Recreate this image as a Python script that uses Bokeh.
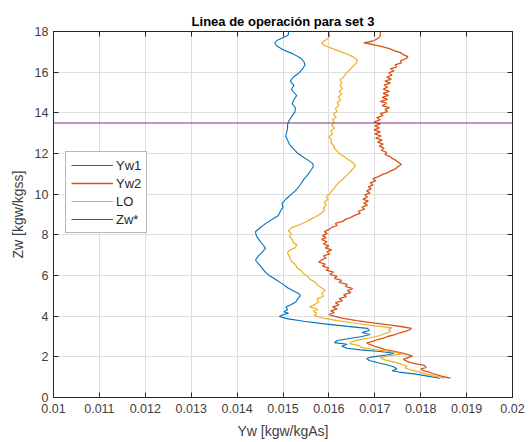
from bokeh.plotting import figure
from bokeh.models import LinearAxis, FixedTicker, Legend, LegendItem
from bokeh.embed import file_html
from bokeh.resources import INLINE

# Operating-line profiles: (Zw, Yw) pairs, bottom to top
yw1_pts = [
    (0.95, 0.01842), (1.05, 0.01815), (1.15, 0.01790), (1.25, 0.01752), (1.32, 0.01738),
    (1.40, 0.01748), (1.50, 0.01742), (1.60, 0.01728), (1.72, 0.01705), (1.82, 0.01688),
    (1.92, 0.01682), (2.00, 0.01695), (2.10, 0.01730), (2.18, 0.01742), (2.26, 0.01712),
    (2.34, 0.01668), (2.42, 0.01640), (2.52, 0.01628), (2.62, 0.01640), (2.70, 0.01612),
    (2.80, 0.01618), (2.90, 0.01645), (3.00, 0.01672), (3.10, 0.01690), (3.20, 0.01672),
    (3.30, 0.01688), (3.40, 0.01684), (3.50, 0.01640), (3.62, 0.01590), (3.75, 0.01545),
    (3.88, 0.01508), (3.98, 0.01492), (4.06, 0.01498), (4.14, 0.01512), (4.22, 0.01502),
    (4.32, 0.01510), (4.45, 0.01506), (4.55, 0.01516), (4.70, 0.01528), (4.85, 0.01532),
    (5.00, 0.01538), (5.12, 0.01534), (5.25, 0.01522), (5.40, 0.01510), (5.60, 0.01498),
    (5.80, 0.01484), (6.00, 0.01470), (6.15, 0.01462), (6.35, 0.01455), (6.55, 0.01448),
    (6.75, 0.01440), (6.95, 0.01446), (7.15, 0.01455), (7.35, 0.01462), (7.55, 0.01455),
    (7.75, 0.01448), (7.95, 0.01442), (8.15, 0.01440), (8.35, 0.01450), (8.55, 0.01462),
    (8.75, 0.01476), (8.95, 0.01490), (9.15, 0.01494), (9.35, 0.01500), (9.55, 0.01498),
    (9.75, 0.01506), (9.95, 0.01516), (10.15, 0.01526), (10.35, 0.01534), (10.55, 0.01540),
    (10.75, 0.01546), (10.95, 0.01554), (11.15, 0.01560), (11.35, 0.01566), (11.50, 0.01565),
    (11.65, 0.01556), (11.85, 0.01542), (12.05, 0.01530), (12.25, 0.01522), (12.45, 0.01514),
    (12.65, 0.01510), (12.85, 0.01506), (13.05, 0.01508), (13.25, 0.01510), (13.45, 0.01510),
    (13.65, 0.01514), (13.85, 0.01520), (14.05, 0.01526), (14.25, 0.01527), (14.45, 0.01520),
    (14.65, 0.01524), (14.85, 0.01530), (15.00, 0.01524), (15.15, 0.01518), (15.35, 0.01524),
    (15.55, 0.01516), (15.75, 0.01522), (15.95, 0.01534), (16.15, 0.01542), (16.35, 0.01548),
    (16.50, 0.01546), (16.70, 0.01538), (16.90, 0.01522), (17.10, 0.01500), (17.30, 0.01486),
    (17.45, 0.01482), (17.60, 0.01490), (17.75, 0.01506), (17.85, 0.01512), (18.00, 0.01512),
]

yw2_pts = [
    (0.95, 0.01865), (1.02, 0.01850), (1.10, 0.01838), (1.18, 0.01826), (1.25, 0.01818),
    (1.32, 0.01806), (1.40, 0.01800), (1.48, 0.01812), (1.58, 0.01808), (1.65, 0.01790),
    (1.72, 0.01778), (1.80, 0.01768), (1.88, 0.01762), (1.96, 0.01772), (2.04, 0.01782),
    (2.12, 0.01770), (2.20, 0.01758), (2.28, 0.01740), (2.36, 0.01722), (2.44, 0.01712),
    (2.52, 0.01700), (2.60, 0.01690), (2.68, 0.01682), (2.76, 0.01695), (2.84, 0.01705),
    (2.92, 0.01718), (3.00, 0.01728), (3.08, 0.01742), (3.16, 0.01752), (3.24, 0.01765),
    (3.32, 0.01775), (3.40, 0.01780), (3.48, 0.01760), (3.56, 0.01735), (3.66, 0.01700),
    (3.78, 0.01660), (3.90, 0.01628), (4.00, 0.01612), (4.08, 0.01600), (4.18, 0.01612),
    (4.26, 0.01604), (4.36, 0.01618), (4.46, 0.01608), (4.56, 0.01622), (4.66, 0.01614),
    (4.76, 0.01630), (4.86, 0.01622), (4.96, 0.01638), (5.06, 0.01632), (5.16, 0.01648),
    (5.26, 0.01640), (5.36, 0.01652), (5.46, 0.01636), (5.56, 0.01640), (5.66, 0.01622),
    (5.76, 0.01628), (5.86, 0.01612), (5.96, 0.01618), (6.06, 0.01602), (6.16, 0.01610),
    (6.26, 0.01594), (6.36, 0.01600), (6.46, 0.01586), (6.56, 0.01592), (6.66, 0.01578),
    (6.76, 0.01584), (6.86, 0.01594), (6.96, 0.01588), (7.06, 0.01602), (7.16, 0.01596),
    (7.26, 0.01606), (7.36, 0.01592), (7.46, 0.01600), (7.56, 0.01588), (7.66, 0.01596),
    (7.76, 0.01584), (7.86, 0.01594), (7.96, 0.01586), (8.06, 0.01596), (8.16, 0.01590),
    (8.26, 0.01600), (8.36, 0.01606), (8.46, 0.01618), (8.56, 0.01614), (8.66, 0.01630),
    (8.76, 0.01636), (8.86, 0.01648), (8.96, 0.01656), (9.06, 0.01668), (9.16, 0.01664),
    (9.26, 0.01678), (9.36, 0.01672), (9.46, 0.01684), (9.56, 0.01676), (9.66, 0.01686),
    (9.76, 0.01674), (9.86, 0.01684), (9.96, 0.01678), (10.06, 0.01690), (10.16, 0.01682),
    (10.26, 0.01692), (10.36, 0.01686), (10.46, 0.01696), (10.56, 0.01690), (10.66, 0.01702),
    (10.76, 0.01696), (10.86, 0.01708), (10.96, 0.01716), (11.06, 0.01728), (11.16, 0.01736),
    (11.26, 0.01746), (11.36, 0.01750), (11.46, 0.01758), (11.56, 0.01752), (11.66, 0.01746),
    (11.76, 0.01738), (11.86, 0.01732), (11.96, 0.01722), (12.06, 0.01726), (12.16, 0.01714),
    (12.26, 0.01720), (12.36, 0.01710), (12.46, 0.01718), (12.56, 0.01706), (12.66, 0.01716),
    (12.76, 0.01702), (12.86, 0.01714), (12.96, 0.01700), (13.06, 0.01712), (13.16, 0.01698),
    (13.26, 0.01710), (13.36, 0.01700), (13.46, 0.01712), (13.56, 0.01698), (13.66, 0.01712),
    (13.76, 0.01704), (13.86, 0.01718), (13.96, 0.01712), (14.06, 0.01728), (14.16, 0.01722),
    (14.26, 0.01732), (14.36, 0.01716), (14.46, 0.01726), (14.56, 0.01712), (14.66, 0.01728),
    (14.76, 0.01716), (14.86, 0.01730), (14.96, 0.01718), (15.06, 0.01732), (15.16, 0.01718),
    (15.26, 0.01728), (15.36, 0.01720), (15.46, 0.01734), (15.56, 0.01722), (15.66, 0.01736),
    (15.76, 0.01726), (15.86, 0.01738), (15.96, 0.01730), (16.06, 0.01742), (16.16, 0.01734),
    (16.26, 0.01748), (16.36, 0.01744), (16.46, 0.01758), (16.56, 0.01756), (16.66, 0.01768),
    (16.76, 0.01772), (16.86, 0.01762), (16.96, 0.01756), (17.06, 0.01742), (17.16, 0.01732),
    (17.26, 0.01716), (17.36, 0.01696), (17.44, 0.01676), (17.52, 0.01694), (17.62, 0.01704),
    (17.72, 0.01710), (17.82, 0.01712), (17.90, 0.01712), (18.00, 0.01712),
]

lo_pts = [
    (0.95, 0.01852), (1.05, 0.01830), (1.15, 0.01812), (1.25, 0.01798), (1.35, 0.01780),
    (1.45, 0.01766), (1.55, 0.01770), (1.65, 0.01756), (1.75, 0.01740), (1.85, 0.01722),
    (1.95, 0.01712), (2.05, 0.01730), (2.15, 0.01760), (2.25, 0.01738), (2.35, 0.01700),
    (2.45, 0.01672), (2.55, 0.01666), (2.65, 0.01645), (2.75, 0.01650), (2.85, 0.01668),
    (2.95, 0.01692), (3.05, 0.01712), (3.15, 0.01722), (3.25, 0.01735), (3.35, 0.01730),
    (3.42, 0.01738), (3.52, 0.01700), (3.64, 0.01660), (3.78, 0.01618), (3.92, 0.01585),
    (4.04, 0.01568), (4.14, 0.01574), (4.24, 0.01566), (4.34, 0.01576), (4.46, 0.01558),
    (4.58, 0.01570), (4.70, 0.01578), (4.84, 0.01574), (4.98, 0.01588), (5.12, 0.01584),
    (5.26, 0.01592), (5.40, 0.01584), (5.54, 0.01574), (5.68, 0.01570), (5.82, 0.01558),
    (5.96, 0.01554), (6.10, 0.01544), (6.24, 0.01540), (6.38, 0.01530), (6.52, 0.01528),
    (6.66, 0.01520), (6.80, 0.01516), (6.94, 0.01514), (7.08, 0.01510), (7.22, 0.01512),
    (7.36, 0.01526), (7.50, 0.01530), (7.64, 0.01522), (7.78, 0.01520), (7.92, 0.01514),
    (8.06, 0.01518), (8.20, 0.01512), (8.34, 0.01518), (8.48, 0.01534), (8.62, 0.01548),
    (8.76, 0.01560), (8.90, 0.01572), (9.04, 0.01582), (9.18, 0.01590), (9.32, 0.01588),
    (9.46, 0.01594), (9.60, 0.01590), (9.74, 0.01598), (9.88, 0.01594), (10.02, 0.01602),
    (10.16, 0.01606), (10.30, 0.01612), (10.44, 0.01616), (10.58, 0.01622), (10.72, 0.01630),
    (10.86, 0.01636), (11.00, 0.01642), (11.14, 0.01648), (11.28, 0.01654), (11.42, 0.01658),
    (11.56, 0.01652), (11.70, 0.01642), (11.84, 0.01634), (11.98, 0.01624), (12.12, 0.01618),
    (12.26, 0.01612), (12.40, 0.01610), (12.54, 0.01604), (12.68, 0.01606), (12.82, 0.01600),
    (12.96, 0.01608), (13.10, 0.01604), (13.24, 0.01612), (13.38, 0.01606), (13.52, 0.01612),
    (13.66, 0.01608), (13.80, 0.01616), (13.94, 0.01610), (14.08, 0.01618), (14.22, 0.01614),
    (14.36, 0.01622), (14.50, 0.01618), (14.64, 0.01626), (14.78, 0.01620), (14.92, 0.01628),
    (15.06, 0.01622), (15.20, 0.01630), (15.34, 0.01624), (15.48, 0.01628), (15.62, 0.01624),
    (15.76, 0.01632), (15.90, 0.01636), (16.04, 0.01642), (16.18, 0.01648), (16.32, 0.01654),
    (16.46, 0.01660), (16.60, 0.01662), (16.74, 0.01654), (16.88, 0.01640), (17.02, 0.01624),
    (17.16, 0.01608), (17.30, 0.01592), (17.42, 0.01584), (17.54, 0.01590), (17.66, 0.01598),
    (17.78, 0.01602), (17.90, 0.01600), (18.00, 0.01600),
]

zw_star = 13.5

x_limits = (0.01, 0.02)
y_limits = (0, 18)
x_ticks = [0.010, 0.011, 0.012, 0.013, 0.014, 0.015, 0.016, 0.017, 0.018, 0.019, 0.020]
x_tick_labels = ["0.01", "0.011", "0.012", "0.013", "0.014", "0.015",
                 "0.016", "0.017", "0.018", "0.019", "0.02"]
y_ticks = [0, 2, 4, 6, 8, 10, 12, 14, 16, 18]

series_names = ["Yw1", "Yw2", "LO", "Zw*"]
colors = ["#0072BD", "#D95319", "#EDB120", "#7E2F8E"]

FONT = "Liberation Sans"
TXT = "#262626"

p = figure(
    width=531, height=442,
    x_range=x_limits, y_range=y_limits,
    min_border_left=53, min_border_right=19, min_border_top=31, min_border_bottom=45,
    output_backend="svg", toolbar_location=None,
    title="Linea de operación para set 3",
)
p.background_fill_color = "white"
p.border_fill_color = "white"
p.outline_line_color = TXT

p.title.align = "center"
p.title.text_font = FONT
p.title.text_font_size = "13px"
p.title.text_font_style = "bold"
p.title.text_color = "#000000"
p.title.offset = 0
p.title.standoff = 6

for ax in (p.xaxis[0], p.yaxis[0]):
    ax.major_tick_in = 5
    ax.major_tick_out = 0
    ax.minor_tick_line_color = None
    ax.axis_line_color = TXT
    ax.major_tick_line_color = TXT
    ax.major_label_text_font = FONT
    ax.major_label_text_font_size = "12.5px"
    ax.major_label_text_color = "#404040"
    ax.axis_label_text_font = FONT
    ax.axis_label_text_font_size = "14px"
    ax.axis_label_text_font_style = "normal"
    ax.axis_label_text_color = "#404040"

p.xaxis[0].ticker = FixedTicker(ticks=x_ticks)
p.xaxis[0].major_label_overrides = dict(zip(x_ticks, x_tick_labels))
p.xaxis[0].axis_label = "Yw [kgw/kgAs]"
p.xaxis[0].major_label_standoff = 6
p.xaxis[0].axis_label_standoff = 7
p.yaxis[0].ticker = FixedTicker(ticks=y_ticks)
p.yaxis[0].axis_label = "Zw [kgw/kgss]"
p.yaxis[0].major_label_standoff = 5
p.yaxis[0].axis_label_standoff = 6

# Box ticks on the top and right edges (tick marks only, no labels)
edge_axis = dict(major_label_text_font_size="1px", major_label_text_color=None,
                 major_label_standoff=0, major_tick_in=5, major_tick_out=0,
                 minor_tick_line_color=None, axis_line_color=TXT,
                 major_tick_line_color=TXT)
top_ax = LinearAxis(ticker=FixedTicker(ticks=x_ticks), **edge_axis)
right_ax = LinearAxis(ticker=FixedTicker(ticks=y_ticks), **edge_axis)
p.add_layout(top_ax, "above")
p.add_layout(right_ax, "right")

p.xgrid.ticker = FixedTicker(ticks=x_ticks)
p.ygrid.ticker = FixedTicker(ticks=y_ticks)
p.grid.grid_line_color = "#dedede"
p.grid.grid_line_width = 1

renderers = []
for pts, color, w in ((yw1_pts, colors[0], 1.1), (yw2_pts, colors[1], 1.3), (lo_pts, colors[2], 1.2)):
    zs = [a for a, b in pts]
    xs = [b for a, b in pts]
    renderers.append(p.line(xs, zs, line_color=color, line_width=w))

renderers.append(p.line(list(x_limits), [zw_star, zw_star], line_color=colors[3], line_width=1))

legend = Legend(
    items=[LegendItem(label=n, renderers=[r]) for n, r in zip(series_names, renderers)],
    location=(12, 164),
    label_text_font=FONT, label_text_font_size="13px", label_text_color="#262626",
    glyph_width=42, glyph_height=16, label_height=16, spacing=2,
    padding=5, label_standoff=3, margin=0,
    border_line_color="#6e6e6e", border_line_width=1,
    background_fill_color="white", background_fill_alpha=1,
)
p.add_layout(legend, "center")

open("out.html", "w").write(file_html(p, INLINE))
